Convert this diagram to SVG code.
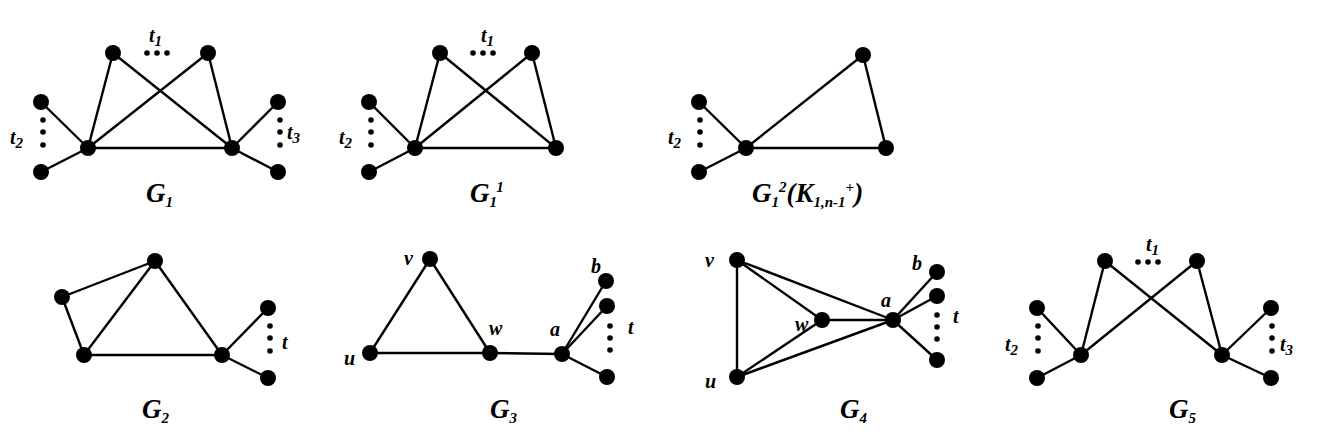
<svg xmlns="http://www.w3.org/2000/svg" width="1326" height="436" viewBox="0 0 1326 436">
<style>
.e line{stroke:#000;stroke-width:2.4}
.n{fill:#000}
.d{fill:#000}
text{font-family:"Liberation Serif","Times New Roman",serif;font-style:italic;font-weight:bold;fill:#000}
.s{font-size:20px}
.g{font-size:27px}
.sub{font-size:15px}
</style>
<rect width="1326" height="436" fill="#fff"/>
<g id="connectors" class="e">
<line x1="113" y1="53" x2="88" y2="148"/><line x1="113" y1="53" x2="232" y2="148"/>
<line x1="208" y1="53" x2="88" y2="148"/><line x1="208" y1="53" x2="232" y2="148"/>
<line x1="88" y1="148" x2="232" y2="148"/>
<line x1="41" y1="102" x2="88" y2="148"/><line x1="41" y1="172" x2="88" y2="148"/>
<line x1="278" y1="102" x2="232" y2="148"/><line x1="278" y1="172" x2="232" y2="148"/>
<line x1="440" y1="53" x2="415" y2="148"/><line x1="440" y1="53" x2="556" y2="148"/>
<line x1="532" y1="53" x2="415" y2="148"/><line x1="532" y1="53" x2="556" y2="148"/>
<line x1="415" y1="148" x2="556" y2="148"/>
<line x1="369" y1="102" x2="415" y2="148"/><line x1="369" y1="172" x2="415" y2="148"/>
<line x1="699" y1="102" x2="746" y2="148"/><line x1="699" y1="172" x2="746" y2="148"/>
<line x1="746" y1="148" x2="863" y2="55"/><line x1="863" y1="55" x2="886" y2="148"/>
<line x1="746" y1="148" x2="886" y2="148"/>
<line x1="62" y1="297" x2="155" y2="261"/><line x1="62" y1="297" x2="84" y2="355"/>
<line x1="155" y1="261" x2="84" y2="355"/><line x1="155" y1="261" x2="222" y2="355"/>
<line x1="84" y1="355" x2="222" y2="355"/>
<line x1="222" y1="355" x2="268" y2="308"/><line x1="222" y1="355" x2="268" y2="378"/>
<line x1="370" y1="353" x2="430" y2="259"/><line x1="430" y1="259" x2="490" y2="353"/>
<line x1="370" y1="353" x2="490" y2="353"/><line x1="490" y1="353" x2="562" y2="354"/>
<line x1="562" y1="354" x2="606" y2="281"/><line x1="562" y1="354" x2="607" y2="306"/>
<line x1="562" y1="354" x2="607" y2="377"/>
<line x1="737" y1="260" x2="737" y2="377"/><line x1="737" y1="260" x2="822" y2="320"/>
<line x1="737" y1="260" x2="893" y2="320"/><line x1="737" y1="377" x2="822" y2="320"/>
<line x1="737" y1="377" x2="893" y2="320"/><line x1="822" y1="320" x2="893" y2="320"/>
<line x1="893" y1="320" x2="937" y2="272"/><line x1="893" y1="320" x2="937" y2="296"/>
<line x1="893" y1="320" x2="937" y2="360"/>
<line x1="1105" y1="261" x2="1081" y2="355"/><line x1="1105" y1="261" x2="1222" y2="355"/>
<line x1="1197" y1="261" x2="1081" y2="355"/><line x1="1197" y1="261" x2="1222" y2="355"/>
<line x1="1037" y1="308" x2="1081" y2="355"/><line x1="1037" y1="378" x2="1081" y2="355"/>
<line x1="1271" y1="308" x2="1222" y2="355"/><line x1="1271" y1="378" x2="1222" y2="355"/>
</g>
<g id="G1">
<circle class="n" cx="113" cy="53" r="8"/><circle class="n" cx="208" cy="53" r="8"/>
<circle class="n" cx="41" cy="102" r="8"/><circle class="n" cx="41" cy="172" r="8"/>
<circle class="n" cx="88" cy="148" r="8"/><circle class="n" cx="232" cy="148" r="8"/>
<circle class="n" cx="278" cy="102" r="8"/><circle class="n" cx="278" cy="172" r="8"/>
<circle class="d" cx="147" cy="53" r="2.8"/><circle class="d" cx="157" cy="53" r="2.8"/><circle class="d" cx="167" cy="53" r="2.8"/>
<circle class="d" cx="43" cy="120" r="2.8"/><circle class="d" cx="43" cy="132" r="2.8"/><circle class="d" cx="43" cy="145" r="2.8"/>
<circle class="d" cx="280" cy="120" r="2.8"/><circle class="d" cx="280" cy="132" r="2.8"/><circle class="d" cx="280" cy="145" r="2.8"/>
<text class="s" x="149" y="42">t<tspan class="sub" dy="4">1</tspan></text>
<text class="s" x="10" y="144">t<tspan class="sub" dy="4">2</tspan></text>
<text class="s" x="287" y="139">t<tspan class="sub" dy="4">3</tspan></text>
<text class="g" x="146" y="202">G<tspan class="sub" dy="5">1</tspan></text>
</g>
<g id="G1-1">
<circle class="n" cx="440" cy="53" r="8"/><circle class="n" cx="532" cy="53" r="8"/>
<circle class="n" cx="369" cy="102" r="8"/><circle class="n" cx="369" cy="172" r="8"/>
<circle class="n" cx="415" cy="148" r="8"/><circle class="n" cx="556" cy="148" r="8"/>
<circle class="d" cx="473" cy="53" r="2.8"/><circle class="d" cx="483" cy="53" r="2.8"/><circle class="d" cx="493" cy="53" r="2.8"/>
<circle class="d" cx="371" cy="120" r="2.8"/><circle class="d" cx="371" cy="132" r="2.8"/><circle class="d" cx="371" cy="145" r="2.8"/>
<text class="s" x="481" y="42">t<tspan class="sub" dy="4">1</tspan></text>
<text class="s" x="339" y="144">t<tspan class="sub" dy="4">2</tspan></text>
<text class="g" x="470" y="202">G<tspan class="sub" dy="5">1</tspan><tspan class="sub" dy="-15">1</tspan></text>
</g>
<g id="G1-2">
<circle class="n" cx="699" cy="102" r="8"/><circle class="n" cx="699" cy="172" r="8"/>
<circle class="n" cx="746" cy="148" r="8"/><circle class="n" cx="863" cy="55" r="8"/>
<circle class="n" cx="886" cy="148" r="8"/>
<circle class="d" cx="700" cy="120" r="2.8"/><circle class="d" cx="700" cy="132" r="2.8"/><circle class="d" cx="700" cy="145" r="2.8"/>
<text class="s" x="668" y="144">t<tspan class="sub" dy="4">2</tspan></text>
<text class="g" x="752" y="202">G<tspan class="sub" dy="5">1</tspan><tspan class="sub" dy="-15">2</tspan><tspan dy="10">(K</tspan><tspan class="sub" dy="5">1,n-1</tspan><tspan class="sub" dy="-15">+</tspan><tspan dy="10">)</tspan></text>
</g>
<g id="G2">
<circle class="n" cx="62" cy="297" r="8"/><circle class="n" cx="155" cy="261" r="8"/>
<circle class="n" cx="84" cy="355" r="8"/><circle class="n" cx="222" cy="355" r="8"/>
<circle class="n" cx="268" cy="308" r="8"/><circle class="n" cx="268" cy="378" r="8"/>
<circle class="d" cx="270" cy="326" r="2.8"/><circle class="d" cx="270" cy="338" r="2.8"/><circle class="d" cx="270" cy="351" r="2.8"/>
<text class="s" x="282" y="349">t</text>
<text class="g" x="142" y="418">G<tspan class="sub" dy="5">2</tspan></text>
</g>
<g id="G3">
<circle class="n" cx="370" cy="353" r="8"/><circle class="n" cx="430" cy="259" r="8"/>
<circle class="n" cx="490" cy="353" r="8"/><circle class="n" cx="562" cy="354" r="8"/>
<circle class="n" cx="606" cy="281" r="8"/><circle class="n" cx="607" cy="306" r="8"/>
<circle class="n" cx="607" cy="377" r="8"/>
<circle class="d" cx="610" cy="326" r="2.8"/><circle class="d" cx="610" cy="338" r="2.8"/><circle class="d" cx="610" cy="350" r="2.8"/>
<text class="s" x="404" y="265">v</text><text class="s" x="344" y="365">u</text>
<text class="s" x="489" y="335">w</text><text class="s" x="550" y="336">a</text>
<text class="s" x="591" y="273">b</text><text class="s" x="628" y="334">t</text>
<text class="g" x="490" y="418">G<tspan class="sub" dy="5">3</tspan></text>
</g>
<g id="G4">
<circle class="n" cx="737" cy="260" r="8"/><circle class="n" cx="737" cy="377" r="8"/>
<circle class="n" cx="822" cy="320" r="8"/><circle class="n" cx="893" cy="320" r="8"/>
<circle class="n" cx="937" cy="272" r="8"/><circle class="n" cx="937" cy="296" r="8"/>
<circle class="n" cx="937" cy="360" r="8"/>
<circle class="d" cx="937" cy="315" r="2.8"/><circle class="d" cx="937" cy="327" r="2.8"/><circle class="d" cx="937" cy="339" r="2.8"/>
<text class="s" x="705" y="267">v</text><text class="s" x="705" y="388">u</text>
<text class="s" x="795" y="331">w</text><text class="s" x="881" y="307">a</text>
<text class="s" x="912" y="270">b</text><text class="s" x="953" y="323">t</text>
<text class="g" x="840" y="418">G<tspan class="sub" dy="5">4</tspan></text>
</g>
<g id="G5">
<circle class="n" cx="1105" cy="261" r="8"/><circle class="n" cx="1197" cy="261" r="8"/>
<circle class="n" cx="1037" cy="308" r="8"/><circle class="n" cx="1037" cy="378" r="8"/>
<circle class="n" cx="1081" cy="355" r="8"/><circle class="n" cx="1222" cy="355" r="8"/>
<circle class="n" cx="1271" cy="308" r="8"/><circle class="n" cx="1271" cy="378" r="8"/>
<circle class="d" cx="1138" cy="262" r="2.8"/><circle class="d" cx="1148" cy="262" r="2.8"/><circle class="d" cx="1158" cy="262" r="2.8"/>
<circle class="d" cx="1038" cy="326" r="2.8"/><circle class="d" cx="1038" cy="338" r="2.8"/><circle class="d" cx="1038" cy="351" r="2.8"/>
<circle class="d" cx="1272" cy="326" r="2.8"/><circle class="d" cx="1272" cy="338" r="2.8"/><circle class="d" cx="1272" cy="351" r="2.8"/>
<text class="s" x="1146" y="251">t<tspan class="sub" dy="4">1</tspan></text>
<text class="s" x="1005" y="351">t<tspan class="sub" dy="4">2</tspan></text>
<text class="s" x="1280" y="351">t<tspan class="sub" dy="4">3</tspan></text>
<text class="g" x="1169" y="418">G<tspan class="sub" dy="5">5</tspan></text>
</g>
</svg>
